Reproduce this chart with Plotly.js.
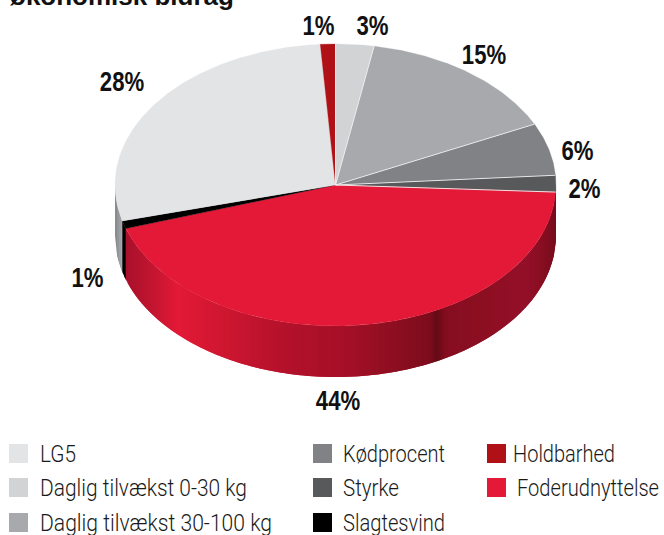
<!DOCTYPE html>
<html>
<head>
<meta charset="utf-8">
<script src="https://cdn.plot.ly/plotly-3.0.1.min.js"></script>
<style>html,body{margin:0;padding:0;background:#fff;overflow:hidden}#chart{width:664px;height:535px}</style>
</head>
<body>
<div id="chart"></div>
<script>
// Data, clockwise from twelve o'clock
const categories = ["Daglig tilvækst 0-30 kg","Daglig tilvækst 30-100 kg","Kødprocent","Styrke","Foderudnyttelse","Slagtesvind","LG5","Holdbarhed"];
const shares = [2.8,15.1,6,1.9,44.2,0.9,28,1.1];
const titleText = "økonomisk bidrag";
const legendOrder = ["LG5","Daglig tilvækst 0-30 kg","Daglig tilvækst 30-100 kg","Kødprocent","Styrke","Slagtesvind","Holdbarhed","Foderudnyttelse"];

// Styles and layout
const colours = {"LG5":"#e3e4e6","Daglig tilvækst 0-30 kg":"#d1d3d5","Daglig tilvækst 30-100 kg":"#a7a9ac","Kødprocent":"#808285","Styrke":"#58595b","Slagtesvind":"#000000","Holdbarhed":"#b01116","Foderudnyttelse":"#e31937"};
const geo = {cx:335.5, cy:185, rx:220.5, ry:141, depth:51};
const labelAt = [[372,26],[484,55],[577.5,151],[584,189],[338,401],[87,278],[122,82],[318,26]];
// swatch x, row y, text x, text width
const legendAt = {"LG5":[18.5,453.5,41,36],"Daglig tilvækst 0-30 kg":[18.5,487.5,41,207],"Daglig tilvækst 30-100 kg":[18.5,522.5,41,232],
  "Kødprocent":[322.5,453.5,344,102],"Styrke":[322.5,487.5,344,56],"Slagtesvind":[322.5,522.5,344,102],
  "Holdbarhed":[496.5,453.5,514,102],"Foderudnyttelse":[496.5,487.5,518,142]};
const redSide = [[125,"#a8102a"],[150,"#c01530"],[178,"#e31937"],[230,"#cc1630"],[290,"#b2112a"],[340,"#a81028"],[400,"#8a0e20"],[430,"#7e0c1c"],[437,"#640a16"],[446,"#860d20"],[490,"#8e0f22"],[525,"#94102a"],[540,"#8a0e22"],[556,"#760b1c"]];
const greySide = [[114,"#7f8184"],[122,"#a7a9ac"]];
const labelScale = 0.82;

function hex(c){return [1,3,5].map(i=>parseInt(c.substr(i,2),16));}
function ramp(stops,x){
  for(let i=0;i<stops.length-1;i++){
    const a=stops[i],b=stops[i+1];
    if(x<=b[0]){
      const f=Math.max(0,(x-a[0])/(b[0]-a[0])),A=hex(a[1]),B=hex(b[1]);
      return "rgb("+A.map((v,k)=>Math.round(v+(B[k]-v)*f)).join(",")+")";
    }
  }
  return stops[stops.length-1][1];
}
function pt(share){
  const t=share/100*2*Math.PI;
  return [geo.cx+geo.rx*Math.sin(t), geo.cy-geo.ry*Math.cos(t)];
}
const traces=[];
const bounds=[0];
shares.forEach(v=>bounds.push(bounds[bounds.length-1]+v));

// Side wall: overlapping vertical strips painted left to right
function rimY(x){const u=(x-geo.cx)/geo.rx;return geo.cy+geo.ry*Math.sqrt(Math.max(0,1-u*u));}
function wall(x0,x1,colourAt){
  const step=2;
  for(let x=x0;x<x1-0.01;x+=step){
    const b=Math.min(x+step*2,x1), m=Math.min(x+step,x1);
    const colour=colourAt((x+m)/2);
    traces.push({type:"scatter",mode:"lines",x:[x,m,b,b,m,x,x],
      y:[rimY(x),rimY(m),rimY(b),rimY(b)+geo.depth,rimY(m)+geo.depth,rimY(x)+geo.depth,rimY(x)],
      fill:"toself",fillcolor:colour,line:{width:0},hoverinfo:"skip",showlegend:false});
  }
}
const iFoder=categories.indexOf("Foderudnyttelse"), iSlag=categories.indexOf("Slagtesvind");
const foderEndX=pt(bounds[iFoder+1])[0], slagEndX=pt(bounds[iSlag+1])[0];
wall(geo.cx-geo.rx,slagEndX,x=>ramp(greySide,x));
wall(slagEndX,foderEndX,x=>"#000000");
wall(foderEndX,geo.cx+geo.rx,x=>ramp(redSide,x));

// Top face
shares.forEach((v,i)=>{
  const xs=[geo.cx],ys=[geo.cy],n=Math.max(4,Math.ceil(v*6));
  for(let k=0;k<=n;k++){const p=pt(bounds[i]+v*k/n);xs.push(p[0]);ys.push(p[1]);}
  xs.push(geo.cx);ys.push(geo.cy);
  traces.push({type:"scatter",mode:"lines",x:xs,y:ys,fill:"toself",fillcolor:colours[categories[i]],line:{color:colours[categories[i]],width:0.3},name:categories[i],text:Math.round(v)+"%",hoverinfo:"name+text",showlegend:false});
});
// Hairlines between the grey slices
[0,1,2,3,4].forEach(i=>{
  const p=pt(bounds[i]);
  traces.push({type:"scatter",mode:"lines",x:[geo.cx,p[0]],y:[geo.cy,p[1]],line:{color:"#f4f4f5",width:0.9},hoverinfo:"skip",showlegend:false});
});
// Legend swatches
traces.push({type:"scatter",mode:"markers",x:legendOrder.map(n=>legendAt[n][0]),y:legendOrder.map(n=>legendAt[n][1]),
  marker:{symbol:"square",size:19,color:legendOrder.map(n=>colours[n]),line:{width:0}},hoverinfo:"skip",showlegend:false});

const annotations=[];
shares.forEach((v,i)=>annotations.push({xref:"x",yref:"y",x:labelAt[i][0],y:labelAt[i][1],text:Math.round(v)+"%",showarrow:false,xanchor:"center",yanchor:"middle",
  font:{family:"'Liberation Sans',sans-serif",size:27,weight:700,color:"#111111"}}));
legendOrder.forEach(n=>annotations.push({xref:"x",yref:"y",x:legendAt[n][2],y:legendAt[n][1]+1,text:n,showarrow:false,xanchor:"left",yanchor:"middle",xshift:-3,
  font:{family:"Roboto,'Liberation Sans',sans-serif",size:23,weight:300,color:"#1a1a1a"}}));

Plotly.newPlot("chart",traces,{
  width:664,height:535,margin:{l:0,r:0,t:0,b:0},paper_bgcolor:"#fff",plot_bgcolor:"#fff",showlegend:false,
  title:{text:titleText,x:10/664,xanchor:"left",xref:"paper",y:1-5/535,yref:"paper",yanchor:"bottom",font:{family:"'Liberation Sans',sans-serif",size:26,weight:700,color:"#111111"}},
  xaxis:{range:[0,664],visible:false,fixedrange:true},
  yaxis:{range:[535,0],visible:false,fixedrange:true},
  annotations:annotations
},{displayModeBar:false,staticPlot:true}).then(()=>{
  // The reference set its text in a condensed face: narrow the glyphs to match
  document.querySelectorAll(".annotation-text").forEach((el,i)=>{
    const isLabel=i<shares.length, before=el.getBBox(), w=el.getComputedTextLength();
    const target=isLabel?w*labelScale:legendAt[legendOrder[i-shares.length]][3];
    el.setAttribute("textLength",target);
    el.setAttribute("lengthAdjust","spacingAndGlyphs");
    const after=el.getBBox();
    const dx=isLabel?(before.x+before.width/2)-(after.x+after.width/2):before.x-after.x;
    el.setAttribute("x",parseFloat(el.getAttribute("x")||0)+dx);
  });
});
</script>
</body>
</html>
